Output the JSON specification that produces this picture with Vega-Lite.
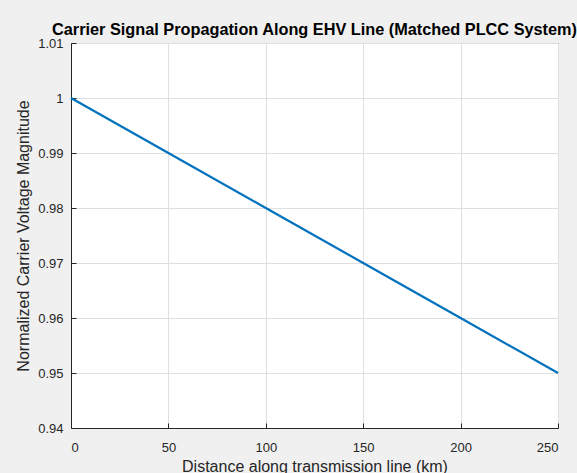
{
  "$schema": "https://vega.github.io/schema/vega-lite/v6.json",
  "width": 487,
  "height": 385,
  "autosize": {"type": "none"},
  "padding": {"left": 71, "top": 43, "right": 19, "bottom": 45},
  "background": "#f0f0f0",
  "config": {
    "font": "Liberation Sans",
    "view": {"fill": "white", "stroke": "#262626", "strokeWidth": 1},
    "axis": {
      "domainColor": "#262626",
      "tickColor": "#262626",
      "labelColor": "#262626",
      "titleColor": "#262626",
      "gridColor": "#dfdfdf",
      "labelFontSize": 13,
      "titleFontSize": 16,
      "titleFontWeight": "normal",
      "tickSize": -5
    }
  },
  "title": {
    "text": "Carrier Signal Propagation Along EHV Line (Matched PLCC System)",
    "fontSize": 16.3,
    "fontWeight": "bold",
    "color": "#000000",
    "anchor": "middle",
    "offset": -1
  },
  "data": {
    "values": [
      {"distance": 0, "v": 1.0},
      {"distance": 50, "v": 0.99},
      {"distance": 100, "v": 0.98},
      {"distance": 150, "v": 0.97},
      {"distance": 200, "v": 0.96},
      {"distance": 250, "v": 0.95}
    ]
  },
  "mark": {"type": "line", "color": "#0072BD", "strokeWidth": 2.2},
  "encoding": {
    "x": {
      "field": "distance",
      "type": "quantitative",
      "scale": {"domain": [0, 250], "nice": false},
      "axis": {
        "title": "Distance along transmission line (km)",
        "values": [0, 50, 100, 150, 200, 250],
        "labelPadding": 18,
        "titlePadding": 4
      }
    },
    "y": {
      "field": "v",
      "type": "quantitative",
      "scale": {"domain": [0.94, 1.01], "nice": false, "zero": false},
      "axis": {
        "title": "Normalized Carrier Voltage Magnitude",
        "values": [0.94, 0.95, 0.96, 0.97, 0.98, 0.99, 1.0, 1.01],
        "format": "~g",
        "labelPadding": 13,
        "titlePadding": 6
      }
    }
  }
}
